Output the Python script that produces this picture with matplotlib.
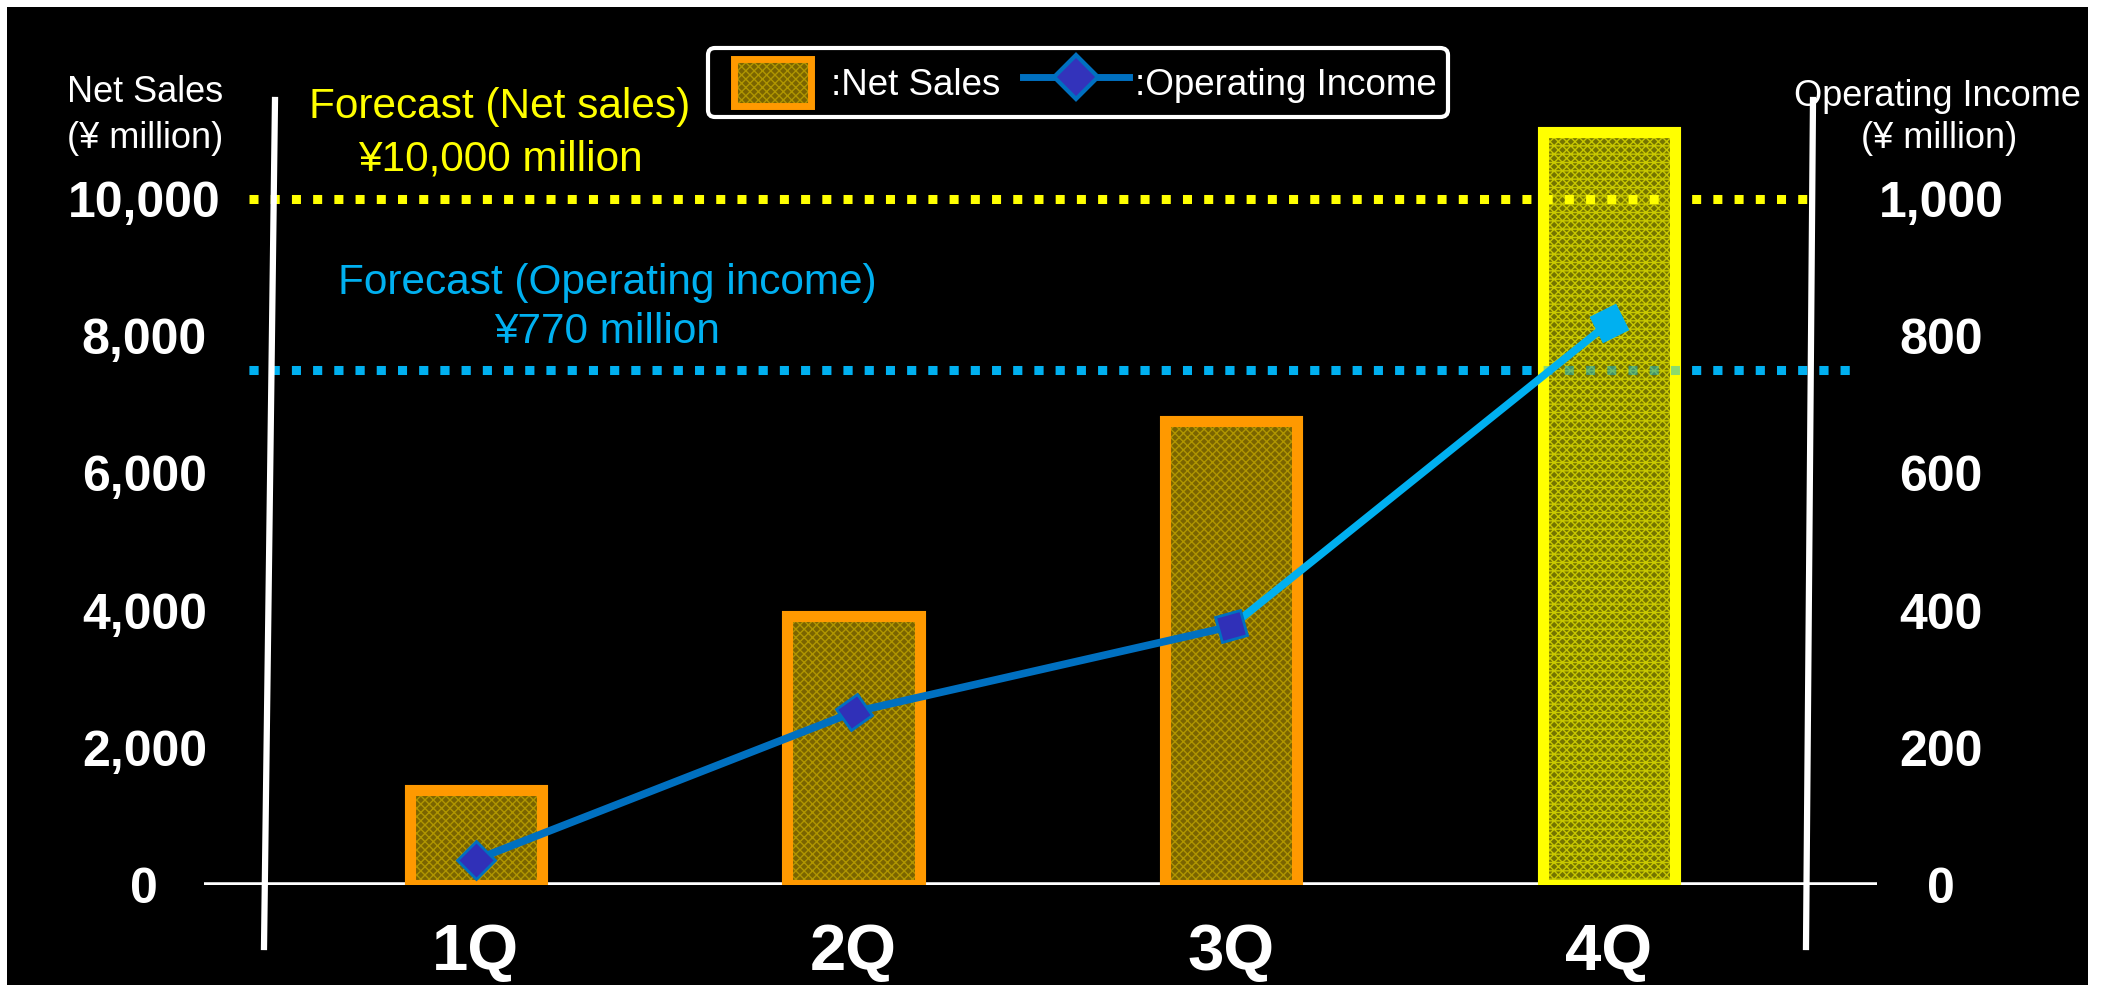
import numpy as np
import matplotlib.pyplot as plt
from matplotlib.patches import Rectangle, Patch
from matplotlib.lines import Line2D
from matplotlib.markers import MarkerStyle
from matplotlib.transforms import Affine2D, blended_transform_factory
from matplotlib.legend_handler import HandlerPatch

plt.rcParams['font.family'] = ['Liberation Sans', 'DejaVu Sans']
plt.rcParams['hatch.linewidth'] = 1.0

# data
quarters = ['1Q', '2Q', '3Q', '4Q']
net_sales = [1380, 3920, 6770, 10970]          # ¥ million, left axis
operating_income = [37, 252, 377, 819]         # ¥ million, right axis
left_ticks = [0, 2000, 4000, 6000, 8000, 10000]
right_ticks = [0, 200, 400, 600, 800, 1000]
forecast_sales = 10000
forecast_oi = 750                               # where the dotted line sits
forecast_sales_text = ['Forecast (Net sales)', '¥10,000 million']
forecast_oi_text = ['Forecast (Operating income)', '¥770 million']

W, H = 2107, 985
def fx(px):
    return px / W
def fy(py):
    return 1 - py / H

fig = plt.figure(figsize=(W / 100, H / 100), dpi=100)
fig.patch.set_facecolor('white')
bg = Rectangle((fx(7), 0), fx(2088) - fx(7), fy(7), transform=fig.transFigure,
               facecolor='black', edgecolor='none', zorder=-10)
fig.add_artist(bg)

ax = fig.add_axes([fx(204), fy(885), fx(1877) - fx(204), fy(0) - fy(885)])
ax.set_facecolor('none')
ax.set_xlim(-0.72, 3.71)
ax.set_ylim(0, 12900)
ax2 = ax.twinx()
ax2.set_ylim(0, 1290)
for a in (ax, ax2):
    for s in a.spines.values():
        s.set_visible(False)

x = np.arange(len(quarters))

# bars: textured fill + thick outline
fill_cols = ['#7a6400', '#7a6400', '#7a6400', '#747400']
hatch_cols = ['#b09600', '#b09600', '#b09600', '#c8c800']
hatches = ['xxxx', 'xxxx', 'xxxx', '--xxxx']
edge_cols = ['#FF9900', '#FF9900', '#FF9900', '#FFFF00']
fills = ax.bar(x, net_sales, width=0.35, color=fill_cols, edgecolor=hatch_cols,
               linewidth=0, zorder=2)
for p, h in zip(fills, hatches):
    p.set_hatch(h)
ax.bar(x, net_sales, width=0.35, facecolor='none', edgecolor=edge_cols,
       linewidth=8, zorder=2.1)

# baseline
ax.axhline(0, color='white', lw=4, zorder=1.5)

# forecast lines
ax.axhline(forecast_sales, xmin=0.027, xmax=0.958, color='#FFFF00', lw=6.5,
           linestyle=(0, (1, 1.35)), dash_capstyle='butt', zorder=4)
oi_tr = blended_transform_factory(ax.transAxes, ax2.transData)
ax.plot([0.027, 0.986], [forecast_oi, forecast_oi], transform=oi_tr,
        color='#00B0F0', lw=6.5, linestyle=(0, (1, 1.35)), dash_capstyle='butt', zorder=1)
ax2.plot([0.027, 0.986], [forecast_oi, forecast_oi], transform=oi_tr,
         color='#00B0F0', lw=6.5, linestyle=(0, (1, 1.35)), dash_capstyle='butt',
         alpha=0.45, zorder=1)

# operating income line
ax2.plot(x[:3], operating_income[:3], color='#0070C0', lw=5.5, zorder=3)
ax2.plot(x[2:], operating_income[2:], color='#00B0F0', lw=5.5, zorder=3)
m_angles = [45, 35, 15, 25]
m_face = ['#3030B8', '#3030B8', '#3030B8', '#00B0F0']
m_edge = ['#0070C0', '#0070C0', '#0070C0', '#00B0F0']
for xi, yi, ang, fc, ec in zip(x, operating_income, m_angles, m_face, m_edge):
    ms = MarkerStyle('s', transform=Affine2D().rotate_deg(ang))
    ax2.plot([xi], [yi], marker=ms, ms=19, mfc=fc, mec=ec, mew=2, ls='none', zorder=4)

# ticks
ax.set_xticks(x, quarters, fontsize=47, fontweight='bold', color='white')
ax.tick_params(axis='x', length=0, pad=27)
ax.set_yticks(left_ticks, [f'{v:,}' for v in left_ticks], fontsize=36,
              fontweight='bold', color='white')
ax.tick_params(axis='y', length=0, pad=43)
for t in ax.get_yticklabels():
    t.set_ha('center')
ax2.set_yticks(right_ticks, [f'{v:,}' for v in right_ticks], fontsize=36,
               fontweight='bold', color='white')
ax2.tick_params(axis='y', length=0, pad=46)
for t in ax2.get_yticklabels():
    t.set_ha('center')

# slanted axis lines
fig.add_artist(Line2D([fx(275), fx(264)], [fy(100), fy(947)], color='white', lw=4.5, zorder=5))
fig.add_artist(Line2D([fx(1813), fx(1806)], [fy(100), fy(947)], color='white', lw=4.5, zorder=5))

# axis titles
fig.text(fx(145), fy(93), 'Net Sales', color='white', fontsize=26, ha='center', va='center')
fig.text(fx(145), fy(139), '(¥ million)', color='white', fontsize=26, ha='center', va='center')
t = fig.text(fx(1794), fy(97), 'Operating Income', color='white', fontsize=26,
             ha='left', va='center')
t.set_clip_path(bg)
fig.text(fx(1939), fy(139), '(¥ million)', color='white', fontsize=26, ha='center', va='center')

# forecast labels
fig.text(fx(500), fy(107), forecast_sales_text[0], color='#FFFF00', fontsize=30.5, ha='center', va='center')
fig.text(fx(500), fy(159), forecast_sales_text[1], color='#FFFF00', fontsize=30.5, ha='center', va='center')
fig.text(fx(607), fy(283), forecast_oi_text[0], color='#00B0F0', fontsize=30.5, ha='center', va='center')
fig.text(fx(607), fy(332), forecast_oi_text[1], color='#00B0F0', fontsize=30.5, ha='center', va='center')

# legend
def small_box(legend, orig_handle, xdescent, ydescent, width, height, fontsize):
    w = width * 0.72
    return Rectangle((-xdescent + (width - w) / 2, -ydescent), w, height)

leg_fill = Patch(facecolor=fill_cols[0], edgecolor=hatch_cols[0], hatch='xxxx', linewidth=0)
leg_edge = Patch(facecolor='none', edgecolor=edge_cols[0], linewidth=5)
leg_line = Line2D([], [], color='#0070C0', lw=5, marker='D', ms=22,
                  mfc='#3333BB', mec='#0070C0', mew=3)
leg = fig.legend(handles=[(leg_fill, leg_edge), leg_line],
                 labels=[':Net Sales', ':Operating Income'],
                 handler_map={Patch: HandlerPatch(patch_func=small_box)},
                 ncol=2, loc='upper left', bbox_to_anchor=(fx(708), fy(48)),
                 bbox_transform=fig.transFigure, fontsize=26.5, labelcolor='white',
                 facecolor='black', edgecolor='white', framealpha=1, fancybox=True,
                 handlelength=2.9, handleheight=1.6, handletextpad=0.15,
                 columnspacing=0.6, borderpad=0.3, borderaxespad=0)
leg.get_frame().set_linewidth(3)

fig.savefig('out.png', dpi=100, facecolor=fig.get_facecolor())
